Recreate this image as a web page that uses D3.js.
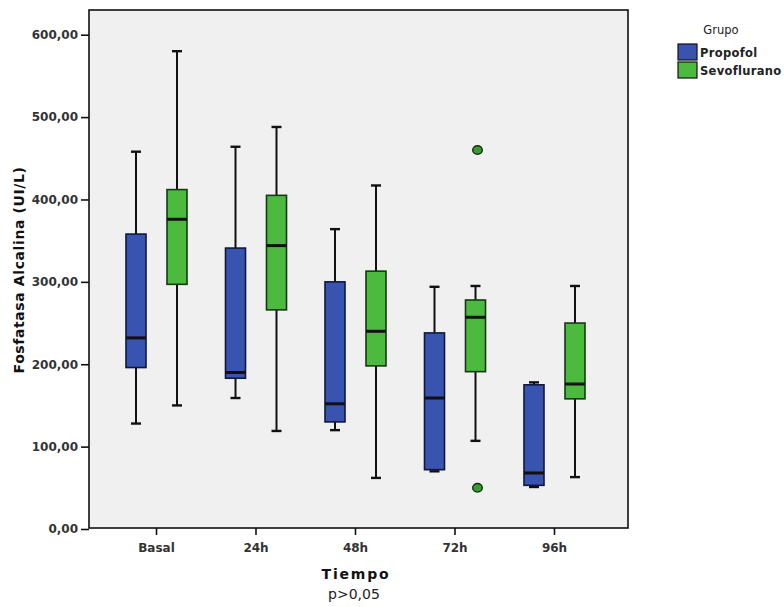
<!DOCTYPE html>
<html>
<head>
<meta charset="utf-8">
<script src="https://cdn.jsdelivr.net/npm/d3@7"></script>
<style>
  html, body { margin: 0; padding: 0; background: #ffffff; }
  svg { display: block; }
</style>
</head>
<body>
<svg id="chart" width="784" height="607"></svg>
<script>
// ---- Data ----
const categories = ["Basal", "24h", "48h", "72h", "96h"];
const groups = ["Propofol", "Sevoflurano"];

const propofolMin    = [128, 159, 120,  70,  51];
const propofolQ1     = [196, 183, 130,  72,  53];
const propofolMedian = [232, 190, 152, 159,  68];
const propofolQ3     = [358, 341, 300, 238, 175];
const propofolMax    = [458, 464, 364, 294, 178];

const sevoMin    = [150, 119,  62, 107,  63];
const sevoQ1     = [297, 266, 198, 191, 158];
const sevoMedian = [376, 344, 240, 257, 176];
const sevoQ3     = [412, 405, 313, 278, 250];
const sevoMax    = [580, 488, 417, 295, 295];

const outlierGroup    = ["Sevoflurano", "Sevoflurano"];
const outlierCategory = ["72h", "72h"];
const outlierValue    = [460, 50];

const yTicks = [0, 100, 200, 300, 400, 500, 600];

// ---- Build table ----
const boxes = [];
categories.forEach((c, i) => {
  boxes.push({cat: c, group: "Propofol", min: propofolMin[i], q1: propofolQ1[i], med: propofolMedian[i], q3: propofolQ3[i], max: propofolMax[i]});
  boxes.push({cat: c, group: "Sevoflurano", min: sevoMin[i], q1: sevoQ1[i], med: sevoMedian[i], q3: sevoQ3[i], max: sevoMax[i]});
});
const outliers = outlierValue.map((v, i) => ({cat: outlierCategory[i], group: outlierGroup[i], v}));

// ---- Layout ----
const plot = {left: 89, right: 628, top: 10, bottom: 528};
const color = d3.scaleOrdinal().domain(groups).range(["#3953b0", "#4cba3e"]);
const strokeCol = {"Propofol": "#10183a", "Sevoflurano": "#143a12"};

const svg = d3.select("#chart");

const y = d3.scaleLinear().domain([0, 630]).range([plot.bottom + 1, plot.top]);
const x = d3.scalePoint().domain(categories).range([156, 554]);
const xg = d3.scalePoint().domain(groups).range([-20, 21]);

// plot background
svg.append("rect")
  .attr("x", plot.left).attr("y", plot.top)
  .attr("width", plot.right - plot.left).attr("height", plot.bottom - plot.top)
  .attr("fill", "#f0f0f0")
  .attr("stroke", "#111").attr("stroke-width", 1.6);

// Y axis
const yAxis = d3.axisLeft(y).tickValues(yTicks)
  .tickFormat(d => d3.format(".2f")(d).replace(".", ","))
  .tickSize(8).tickPadding(3);
const gy = svg.append("g").attr("transform", `translate(${plot.left},0)`).call(yAxis);
gy.select(".domain").remove();
gy.selectAll(".tick line").attr("stroke", "#111").attr("stroke-width", 1.6);
gy.selectAll(".tick text")
  .attr("font-family", "DejaVu Sans, sans-serif")
  .attr("font-weight", "bold")
  .attr("font-size", 12).attr("fill", "#333");

// X axis
const xAxis = d3.axisBottom(x).tickSize(7).tickPadding(8);
const gx = svg.append("g").attr("transform", `translate(0,${plot.bottom})`).call(xAxis);
gx.select(".domain").remove();
gx.selectAll(".tick line").attr("stroke", "#111").attr("stroke-width", 1.6);
gx.selectAll(".tick text")
  .attr("font-family", "DejaVu Sans, sans-serif")
  .attr("font-weight", "bold")
  .attr("font-size", 12).attr("fill", "#333");

// Boxes
const bw = 20, cw = 10;
const g = svg.append("g");
boxes.forEach(d => {
  const cx = x(d.cat) + xg(d.group);
  const gg = g.append("g");
  gg.append("line").attr("x1", cx).attr("x2", cx).attr("y1", y(d.q3)).attr("y2", y(d.max))
    .attr("stroke", "#111").attr("stroke-width", 2);
  gg.append("line").attr("x1", cx).attr("x2", cx).attr("y1", y(d.q1)).attr("y2", y(d.min))
    .attr("stroke", "#111").attr("stroke-width", 2);
  gg.append("line").attr("x1", cx - cw / 2).attr("x2", cx + cw / 2).attr("y1", y(d.max)).attr("y2", y(d.max))
    .attr("stroke", "#111").attr("stroke-width", 2.4);
  gg.append("line").attr("x1", cx - cw / 2).attr("x2", cx + cw / 2).attr("y1", y(d.min)).attr("y2", y(d.min))
    .attr("stroke", "#111").attr("stroke-width", 2.4);
  gg.append("rect").attr("x", cx - bw / 2).attr("width", bw)
    .attr("y", y(d.q3)).attr("height", y(d.q1) - y(d.q3))
    .attr("fill", color(d.group)).attr("stroke", strokeCol[d.group]).attr("stroke-width", 1.6);
  gg.append("line").attr("x1", cx - bw / 2).attr("x2", cx + bw / 2).attr("y1", y(d.med)).attr("y2", y(d.med))
    .attr("stroke", "#111").attr("stroke-width", 3);
});

// Outliers
g.selectAll("ellipse.out").data(outliers).join("ellipse")
  .attr("class", "out")
  .attr("cx", d => x(d.cat) + xg(d.group) + 2)
  .attr("cy", d => y(d.v))
  .attr("rx", 4.8).attr("ry", 4.3)
  .attr("fill", "#3a9a32")
  .attr("stroke", "#0f2e0c").attr("stroke-width", 1.4);

// Axis titles
svg.append("text")
  .attr("transform", "translate(24,270) rotate(-90)")
  .attr("text-anchor", "middle")
  .attr("font-family", "DejaVu Sans, sans-serif")
  .attr("font-weight", "bold").attr("font-size", 14)
  .attr("letter-spacing", 0.6)
  .attr("fill", "#111")
  .text("Fosfatasa Alcalina (UI/L)");

svg.append("text")
  .attr("x", 356).attr("y", 579)
  .attr("text-anchor", "middle")
  .attr("font-family", "DejaVu Sans, sans-serif")
  .attr("font-weight", "bold").attr("font-size", 14)
  .attr("letter-spacing", 1.8)
  .attr("fill", "#111")
  .text("Tiempo");

svg.append("text")
  .attr("x", 354).attr("y", 599)
  .attr("text-anchor", "middle")
  .attr("font-family", "DejaVu Sans, sans-serif")
  .attr("font-size", 14)
  .attr("fill", "#222")
  .text("p>0,05");

// Legend
const lg = svg.append("g");
lg.append("text").attr("x", 721).attr("y", 34).attr("text-anchor", "middle")
  .attr("font-family", "DejaVu Sans, sans-serif").attr("font-size", 11.5)
  .attr("fill", "#222").text("Grupo");
groups.forEach((gname, i) => {
  const yy = 44 + i * 18;
  lg.append("rect").attr("x", 678).attr("y", yy).attr("width", 19).attr("height", 16)
    .attr("fill", color(gname)).attr("stroke", "#111").attr("stroke-width", 1.2);
  lg.append("text").attr("x", 700).attr("y", yy + 13)
    .attr("font-family", "DejaVu Sans, sans-serif").attr("font-weight", "bold")
    .attr("font-size", 11.5).attr("letter-spacing", 0.3)
    .attr("fill", "#222").text(gname);
});
</script>
</body>
</html>
